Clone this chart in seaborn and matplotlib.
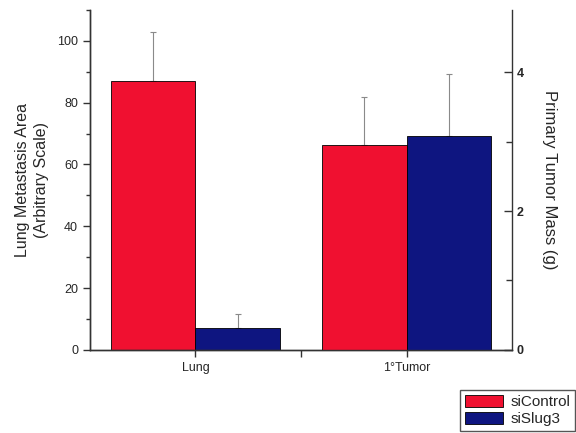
import pandas as pd
import seaborn as sns
import matplotlib.pyplot as plt
from matplotlib.ticker import MultipleLocator, FixedLocator

sns.set_theme(style="white")
plt.rcParams["font.family"] = ["Liberation Sans", "DejaVu Sans"]

sites = ["Lung", "1°Tumor"]
treatments = ["siControl", "siSlug3"]
lung_area = [87, 7.2]
lung_err = [16, 4.5]
tumor_mass = [2.96, 3.09]
tumor_err = [0.68, 0.88]
colors = ["#F01030", "#0E1580"]

lung = pd.DataFrame({"site": sites[0], "treatment": treatments, "value": lung_area})
tumor = pd.DataFrame({"site": sites[1], "treatment": treatments, "value": tumor_mass})

fig = plt.figure(figsize=(5.76, 4.33), dpi=100)
ax = fig.add_axes([0.156, 0.192, 0.733, 0.785])
ax2 = ax.twinx()

bar_kw = dict(x="site", y="value", hue="treatment", order=sites, hue_order=treatments,
              palette=colors, errorbar=None, edgecolor="black", linewidth=0.6, saturation=1)
sns.barplot(data=lung, ax=ax, **bar_kw)
sns.barplot(data=tumor, ax=ax2, legend=False, **bar_kw)

# upper-only error bars, drawn behind the bars so the lower cap is hidden
for a, errs in ((ax, lung_err), (ax2, tumor_err)):
    for cont, e in zip(a.containers, errs):
        p = cont[0]
        a.errorbar(p.get_x() + p.get_width() / 2, p.get_height(), yerr=[[0], [e]],
                   fmt="none", ecolor="#8a8a8a", elinewidth=0.8, capsize=2, capthick=0.8,
                   zorder=0.5)

ax.set_xlim(-0.5, 1.5)
ax.set_ylim(0, 110)
ax2.set_ylim(0, 4.9)
ax.set_xticks([0, 1])
ax.set_xticklabels(sites)
ax.xaxis.set_minor_locator(FixedLocator([0.5]))
ax.yaxis.set_major_locator(MultipleLocator(20))
ax.yaxis.set_minor_locator(MultipleLocator(10))
ax2.yaxis.set_major_locator(MultipleLocator(2))
ax2.yaxis.set_minor_locator(MultipleLocator(1))

ax.set_xlabel("")
ax.set_ylabel("Lung Metastasis Area\n(Arbitrary Scale)", fontsize=11.5, labelpad=6, linespacing=1.35)
ax2.set_ylabel("Primary Tumor Mass (g)", fontsize=12, rotation=270, labelpad=24)

for a in (ax, ax2):
    a.spines["top"].set_visible(False)
    for s in a.spines.values():
        s.set_color("#333333")
        s.set_linewidth(1.0)
ax.spines["right"].set_visible(False)

ax.tick_params(axis="y", which="major", direction="out", length=5, width=1, labelsize=9, left=True, color="#333333")
ax.tick_params(axis="y", which="minor", direction="out", length=3, width=1, left=True, color="#333333")
ax.tick_params(axis="x", which="both", direction="out", length=5, width=1, labelsize=9, bottom=True, color="#333333")
ax2.tick_params(axis="y", which="major", direction="in", length=6, width=1, labelsize=9, right=True, color="#333333")
ax2.tick_params(axis="y", which="minor", direction="in", length=4, width=1, right=True, color="#333333")
for t in ax2.get_yticklabels():
    t.set_fontweight("bold")

handles, labels = ax.get_legend_handles_labels()
ax.get_legend().remove()
fig.legend(handles, labels, loc="lower right", bbox_to_anchor=(0.998, 0.005), fontsize=11,
           frameon=True, fancybox=False, edgecolor="#555555", framealpha=1,
           handlelength=2.5, handleheight=0.9, handletextpad=0.5, borderpad=0.3,
           labelspacing=0.15, borderaxespad=0)

fig.savefig("out.png", dpi=100)
